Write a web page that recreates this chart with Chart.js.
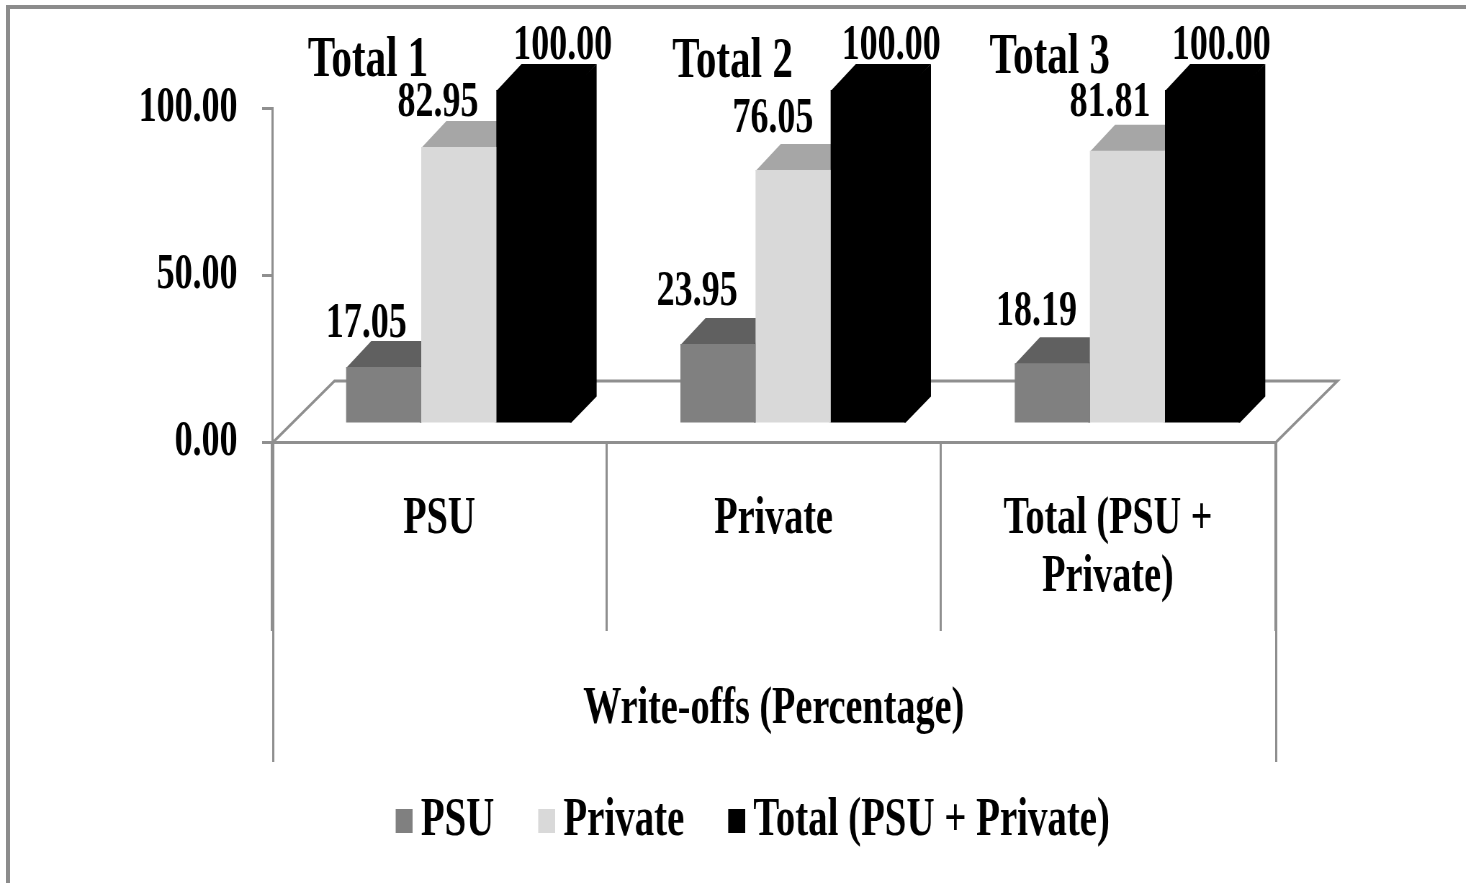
<!DOCTYPE html>
<html>
<head>
<meta charset="utf-8">
<title>Write-offs (Percentage)</title>
<script src="https://cdn.jsdelivr.net/npm/chart.js@4"></script>
<style>
html, body { margin: 0; padding: 0; background: #fff; width: 1466px; height: 883px; overflow: hidden; }
#frame { position: absolute; left: 6px; top: 5px; width: 1470px; height: 890px;
         border-top: 4px solid #8c8c8c; border-left: 4px solid #8c8c8c; }
/* the reference text is squeezed sideways, so the whole canvas is drawn wide and narrowed here */
#wrap { position: absolute; left: 0; top: 0; width: 2036px; height: 883px;
        transform: scaleX(0.72); transform-origin: 0 0; filter: blur(0.5px); }
</style>
</head>
<body>
<div id="frame"></div>
<div id="wrap"><canvas id="chart" width="2036" height="883"></canvas></div>
<script>
var categories = [["PSU"], ["Private"], ["Total (PSU +", "Private)"]];
var axisTitle = "Write-offs (Percentage)";
var seriesNames = ["PSU", "Private", "Total (PSU + Private)"];
var psuValues = [17.05, 23.95, 18.19];
var privateValues = [82.95, 76.05, 81.81];
var totalValues = [100.00, 100.00, 100.00];
var totalNotes = ["Total 1", "Total 2", "Total 3"];

var FONT = "'Liberation Serif'";
var LINE = "#8f8f8f";

var frontColors = ["#808080", "#d9d9d9", "#000000"];
var topColors = ["#606060", "#a6a6a6", "#000000"];
var sideColors = ["#505050", "#b0b0b0", "#000000"];

// all in canvas px, x is narrowed afterwards by the css scale
var barShiftX = 27, barShiftY = -18;
var depthX = 35, depthY = -26;
var floorX = 85, floorY = -61;
var legendShiftX = 127, legendShiftY = 7;
var valueOffsets = [   // per dataset, per category: label centre from bar top centre
    [[-24, -43], [-29, -52], [-22, -51]],
    [[-29, -44], [-28, -51], [-24, -48]],
    [[40, -44], [32, -44], [26, -44]]
];
var noteOffsets = [-99, -57, -81]; // from category centre
var noteY = [61, 62, 58];

function drawDepth(ctx, el, i) {
    var half = el.width / 2;
    var l = el.x - half, r = el.x + half;

    ctx.fillStyle = topColors[i];
    ctx.beginPath();
    ctx.moveTo(l, el.y + 1);
    ctx.lineTo(l + depthX, el.y + depthY);
    ctx.lineTo(r + depthX, el.y + depthY);
    ctx.lineTo(r, el.y + 1);
    ctx.closePath();
    ctx.fill();

    ctx.fillStyle = sideColors[i];
    ctx.beginPath();
    ctx.moveTo(r - 2, el.y);
    ctx.lineTo(r + depthX, el.y + depthY);
    ctx.lineTo(r + depthX, el.base + depthY);
    ctx.lineTo(r, el.base);
    ctx.lineTo(r - 2, el.base);
    ctx.closePath();
    ctx.fill();
}

// legend swatch pushed to the right of its image, the reference keeps it close to the text
function legendSwatch(color) {
    var c = document.createElement("canvas");
    c.width = 56;
    c.height = 24;
    var x = c.getContext("2d");
    x.fillStyle = color;
    x.fillRect(32, 0, 24, 24);
    return c;
}

var chart3d = {
    id: "chart3d",
    afterLayout: function (chart) {
        chart.legend.left += legendShiftX;
        chart.legend.right += legendShiftX;
        chart.legend.top += legendShiftY;
        chart.legend.bottom += legendShiftY;
    },
    beforeDatasetsDraw: function (chart) {
        var ctx = chart.ctx;
        var a = chart.chartArea;
        var left = Math.floor(a.left) + 1.5;
        var right = Math.floor(a.right) + 1.5;

        // floor and the two long outer separators
        ctx.save();
        ctx.strokeStyle = LINE;
        ctx.lineWidth = 3;
        ctx.beginPath();
        ctx.moveTo(left, a.bottom);
        ctx.lineTo(left + floorX, a.bottom + floorY);
        ctx.lineTo(right + floorX, a.bottom + floorY);
        ctx.lineTo(right, a.bottom);
        ctx.moveTo(left, a.bottom);
        ctx.lineTo(left, 762);
        ctx.moveTo(right, a.bottom);
        ctx.lineTo(right, 762);
        ctx.stroke();
        ctx.restore();

        ctx.save();
        ctx.translate(barShiftX, barShiftY);
        chart.data.datasets.forEach(function (ds, i) {
            chart.getDatasetMeta(i).data.forEach(function (el) {
                drawDepth(ctx, el, i);
            });
        });
    },
    afterDatasetsDraw: function (chart) {
        var ctx = chart.ctx;
        ctx.restore();

        ctx.save();
        ctx.fillStyle = "#000";
        ctx.textAlign = "center";
        ctx.textBaseline = "middle";
        ctx.font = "bold 50px " + FONT;
        chart.data.datasets.forEach(function (ds, i) {
            chart.getDatasetMeta(i).data.forEach(function (el, j) {
                var off = valueOffsets[i][j];
                ctx.fillText(ds.data[j].toFixed(2), el.x + barShiftX + off[0], el.y + barShiftY + off[1]);
            });
        });
        ctx.font = "bold 57px " + FONT;
        totalNotes.forEach(function (note, j) {
            var x = chart.scales.x.getPixelForTick(j);
            ctx.fillText(note, x + noteOffsets[j], noteY[j]);
        });
        ctx.restore();
    }
};

function makeDataset(label, values, i) {
    return {
        label: label,
        data: values,
        backgroundColor: frontColors[i],
        borderWidth: 0,
        clip: false,
        categoryPercentage: 0.674,
        barPercentage: 1
    };
}

new Chart(document.getElementById("chart"), {
    type: "bar",
    data: {
        labels: categories,
        datasets: [
            makeDataset(seriesNames[0], psuValues, 0),
            makeDataset(seriesNames[1], privateValues, 1),
            makeDataset(seriesNames[2], totalValues, 2)
        ]
    },
    plugins: [chart3d],
    options: {
        responsive: false,
        animation: false,
        layout: { padding: { left: 50, right: 265, top: 108, bottom: 32 } },
        plugins: {
            tooltip: { enabled: false },
            legend: {
                position: "bottom",
                labels: {
                    color: "#000",
                    boxWidth: 24,
                    boxHeight: 24,
                    padding: 45,
                    usePointStyle: true,
                    font: { family: FONT, weight: "bold", size: 54 },
                    generateLabels: function (chart) {
                        var items = Chart.defaults.plugins.legend.labels.generateLabels(chart);
                        items.forEach(function (item, i) {
                            item.pointStyle = legendSwatch(frontColors[i]);
                        });
                        return items;
                    }
                }
            }
        },
        scales: {
            x: {
                afterFit: function (scale) { scale.height = 300; },
                border: { color: LINE, width: 3 },
                grid: { drawOnChartArea: false, color: LINE, lineWidth: 3, tickLength: 189, offset: true },
                ticks: {
                    color: "#000",
                    padding: -141,
                    maxRotation: 0,
                    font: { family: FONT, weight: "bold", size: 53, lineHeight: 1.1 }
                },
                title: {
                    display: true,
                    text: axisTitle,
                    color: "#000",
                    padding: { top: 0, bottom: 6 },
                    font: { family: FONT, weight: "bold", size: 53, lineHeight: 1 }
                }
            },
            y: {
                min: 0,
                max: 100,
                afterFit: function (scale) { scale.width = 328; },
                border: { color: LINE, width: 3 },
                grid: { drawOnChartArea: false, color: LINE, lineWidth: 3, tickLength: 14 },
                ticks: {
                    stepSize: 50,
                    color: "#000",
                    padding: 34,
                    font: { family: FONT, weight: "bold", size: 50 },
                    callback: function (v) { return v.toFixed(2); }
                }
            }
        }
    }
});
</script>
</body>
</html>
